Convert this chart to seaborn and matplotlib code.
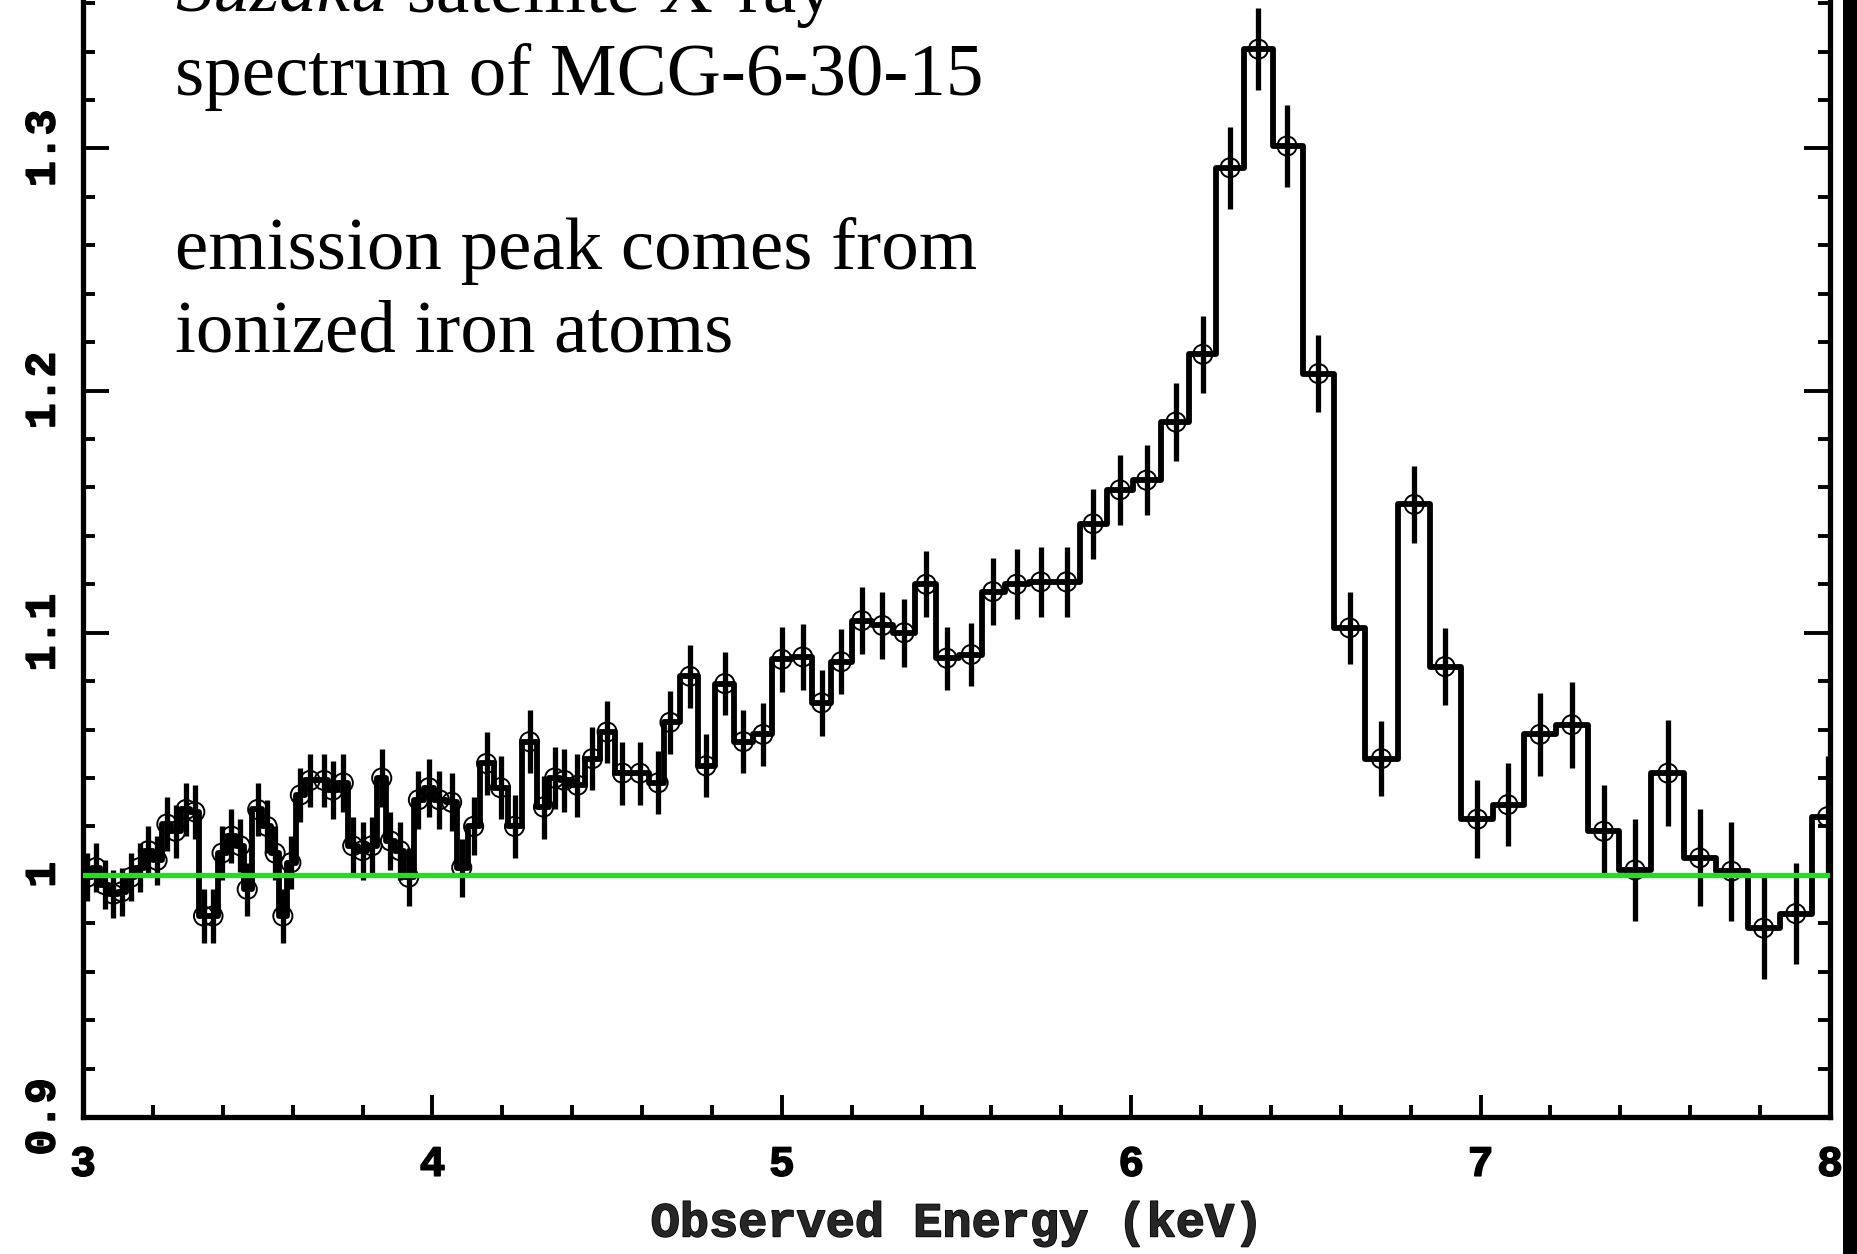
import numpy as np
import matplotlib
matplotlib.use("Agg")
import matplotlib.pyplot as plt
from matplotlib.patches import Rectangle
from matplotlib.ticker import FixedLocator, MultipleLocator
import matplotlib.patheffects as pe
import seaborn as sns

# Ratio of the data to a power-law continuum, binned in observed energy (keV)
energy = [
    3.012, 3.037, 3.062, 3.087, 3.111, 3.137, 3.162, 3.187, 3.212, 3.240,
    3.265, 3.295, 3.320, 3.345, 3.372, 3.398, 3.425, 3.450, 3.470, 3.500,
    3.527, 3.550, 3.572, 3.595, 3.622, 3.650, 3.690, 3.715, 3.745, 3.772,
    3.800, 3.827, 3.855, 3.880, 3.907, 3.932, 3.960, 3.990, 4.020, 4.055,
    4.084, 4.118, 4.155, 4.195, 4.235, 4.278, 4.318, 4.350, 4.378, 4.415,
    4.458, 4.500, 4.544, 4.594, 4.646, 4.680, 4.737, 4.783, 4.837, 4.890,
    4.946, 5.000, 5.060, 5.114, 5.170, 5.229, 5.288, 5.350, 5.413, 5.472,
    5.542, 5.604, 5.672, 5.741, 5.815, 5.891, 5.968, 6.044, 6.128, 6.205,
    6.283, 6.364, 6.446, 6.536, 6.625, 6.716, 6.810, 6.898, 6.991, 7.078,
    7.170, 7.261, 7.352, 7.442, 7.536, 7.627, 7.718, 7.810, 7.902, 7.993,
]
ratio = [
    0.999, 1.003, 0.996, 0.992, 0.993, 0.999, 1.003, 1.010, 1.006, 1.021,
    1.018, 1.027, 1.026, 0.983, 0.983, 1.009, 1.016, 1.012, 0.994, 1.027,
    1.020, 1.009, 0.983, 1.005, 1.033, 1.039, 1.039, 1.035, 1.038, 1.012,
    1.010, 1.012, 1.040, 1.014, 1.010, 0.999, 1.031, 1.036, 1.031, 1.030,
    1.003, 1.020, 1.046, 1.036, 1.020, 1.055, 1.028, 1.040, 1.039, 1.037,
    1.048, 1.059, 1.042, 1.042, 1.038, 1.063, 1.082, 1.045, 1.079, 1.055,
    1.058, 1.089, 1.090, 1.071, 1.088, 1.105, 1.103, 1.100, 1.120, 1.0895,
    1.091, 1.117, 1.120, 1.121, 1.121, 1.145, 1.159, 1.163, 1.187, 1.215,
    1.292, 1.341, 1.301, 1.207, 1.102, 1.048, 1.153, 1.086, 1.023, 1.029,
    1.058, 1.062, 1.018, 1.002, 1.042, 1.007, 1.0015, 0.978, 0.984, 1.024,
]
ratio_err = [
    0.010, 0.010, 0.010, 0.010, 0.010, 0.010, 0.010, 0.010, 0.010, 0.011,
    0.011, 0.011, 0.011, 0.011, 0.011, 0.011, 0.011, 0.011, 0.011, 0.011,
    0.011, 0.011, 0.011, 0.011, 0.011, 0.011, 0.011, 0.012, 0.012, 0.012,
    0.012, 0.012, 0.012, 0.012, 0.012, 0.012, 0.012, 0.012, 0.012, 0.012,
    0.012, 0.012, 0.013, 0.013, 0.013, 0.013, 0.013, 0.013, 0.013, 0.013,
    0.013, 0.013, 0.013, 0.013, 0.013, 0.013, 0.013, 0.013, 0.013, 0.013,
    0.013, 0.0135, 0.0135, 0.0135, 0.0135, 0.0138, 0.014, 0.014, 0.0137, 0.013,
    0.013, 0.014, 0.0145, 0.0145, 0.0145, 0.0145, 0.0145, 0.0145, 0.016, 0.016,
    0.017, 0.017, 0.017, 0.016, 0.015, 0.0155, 0.016, 0.016, 0.016, 0.017,
    0.017, 0.0177, 0.019, 0.021, 0.022, 0.020, 0.0205, 0.021, 0.021, 0.025,
]

continuum_level = 1.0

x_ticks = [3, 4, 5, 6, 7, 8]
x_tick_labels = ["3", "4", "5", "6", "7", "8"]
y_ticks = [0.9, 1.0, 1.1, 1.2, 1.3]
y_tick_labels = ["0.9", "1", "1.1", "1.2", "1.3"]
x_label = "Observed Energy (keV)"

note_title_italic = "Suzaku"
note_title_rest = " satellite X-ray"
note_lines = ["spectrum of MCG-6-30-15", "emission peak comes from", "ionized iron atoms"]

sns.set_theme(style="ticks")
plt.rcParams["font.family"] = ["Liberation Mono", "DejaVu Sans Mono"]

W, H = 1857, 1254
fig = plt.figure(figsize=(W / 100, H / 100), dpi=100, facecolor="white")
ax = fig.add_axes([83 / W, 1 - 1117 / H, (1830 - 83) / W, 1117 / H])
ax.set_facecolor("white")

# bin edges halfway between neighbouring bin centres
centers = np.asarray(energy)
values = np.asarray(ratio)
errs = np.asarray(ratio_err)
mids = 0.5 * (centers[1:] + centers[:-1])
edges = np.concatenate([[2 * centers[0] - mids[0]], mids, [2 * centers[-1] - mids[-1]]])

sns.lineplot(x=edges, y=np.append(values, values[-1]), drawstyle="steps-post",
             color="black", lw=4.2, estimator=None, sort=False, errorbar=None,
             ax=ax, zorder=3)
ax.vlines(centers, values - errs, values + errs, color="black", lw=3.8, zorder=3)
sns.scatterplot(x=centers, y=values, marker="o", s=190, color="black",
                edgecolor="black", linewidth=1.4, ax=ax, zorder=4)
ax.collections[-1].set_facecolor("none")

ax.axhline(continuum_level, color="#1fe01f", lw=3.8, zorder=5)

ax.set_xlim(3, 8)
ax.set_ylim(0.9, 1.3613)

ax.xaxis.set_major_locator(FixedLocator(x_ticks))
ax.set_xticklabels(x_tick_labels)
ax.xaxis.set_minor_locator(MultipleLocator(0.2))
ax.yaxis.set_major_locator(FixedLocator(y_ticks))
ax.set_yticklabels(y_tick_labels)
ax.yaxis.set_minor_locator(MultipleLocator(0.02))

ax.tick_params(axis="both", which="both", direction="in", colors="black", width=2.8)
ax.tick_params(axis="x", which="major", length=16, labelsize=31, pad=20)
ax.tick_params(axis="x", which="minor", length=8.5)
ax.tick_params(axis="y", which="major", length=19, labelsize=31, pad=14,
               right=True, labelrotation=90)
ax.tick_params(axis="y", which="minor", length=8.5, right=True)
bold_stroke = [pe.withStroke(linewidth=1.1, foreground="black")]
for lbl in ax.get_xticklabels() + ax.get_yticklabels():
    lbl.set_fontweight("bold")
    lbl.set_path_effects(bold_stroke)
for lbl in ax.get_yticklabels():
    lbl.set_verticalalignment("center")

ax.set_xlabel(x_label, fontsize=35, fontweight="bold", labelpad=12,
              path_effects=bold_stroke)
ax.set_ylabel("")

for side in ("left", "bottom", "right"):
    ax.spines[side].set_linewidth(3.8)
    ax.spines[side].set_color("black")
ax.spines["top"].set_visible(False)

# annotation text in the upper left
serif = ["Liberation Serif", "DejaVu Serif"]
x0 = 175 / W
t_it = fig.text(x0, 1 - 12 / H, note_title_italic, family=serif, style="italic",
                fontsize=54, va="baseline", ha="left", color="black")
fig.canvas.draw()
bb = t_it.get_window_extent(renderer=fig.canvas.get_renderer())
fig.text(bb.x1 / W, 1 - 12 / H, note_title_rest, family=serif, fontsize=54,
         va="baseline", ha="left", color="black")
for line, base in zip(note_lines, [95, 269, 352]):
    fig.text(x0, 1 - base / H, line, family=serif, fontsize=54,
             va="baseline", ha="left", color="black")

# dark strip along the right edge
fig.add_artist(Rectangle((1843 / W, 0), 14 / W, 1, transform=fig.transFigure,
                         facecolor="black", edgecolor="none", zorder=20))

fig.savefig("out.png", dpi=100, facecolor="white")
